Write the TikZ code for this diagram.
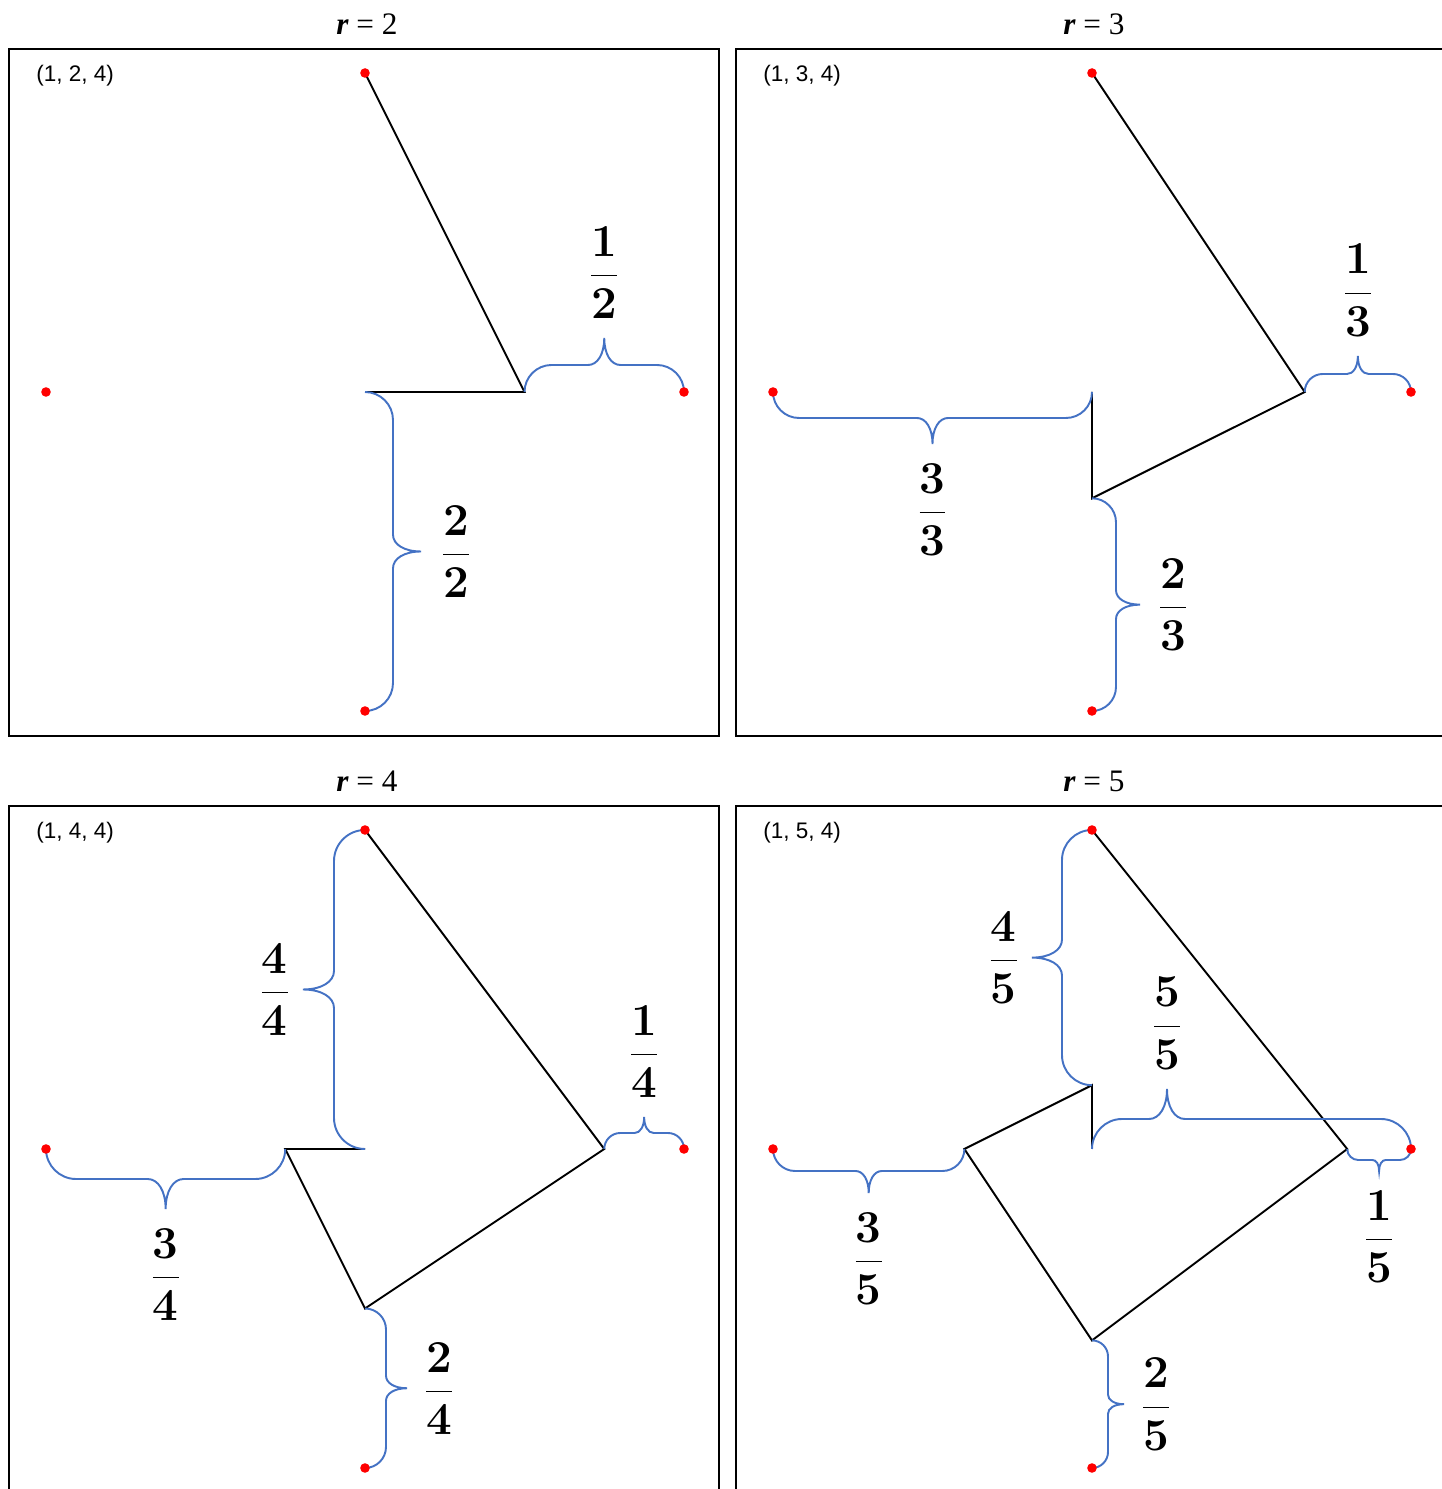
\RequirePackage{fix-cm}
\documentclass[tikz,border=0pt]{standalone}
\usepackage{amsmath}
\usepackage{fontspec}
\usepackage{xcolor}
\usepackage{tikz}
\usetikzlibrary{calc}

\newfontfamily\sansfont{Liberation Sans}
\newfontfamily\timesfont{Liberation Serif}
\definecolor{braceblue}{RGB}{68,114,196}

\newcommand\frlabel[2]{$\genfrac{}{}{0.6pt}{0}{\textbf{#1}}{\textbf{#2}}$}

% frame, heading, tag and the four corner points of one panel
\newcommand\panelbox[1]{%
  \coordinate (c) at (0,0);
  \coordinate (v1) at (319,0);
  \coordinate (v2) at (0,-319);
  \coordinate (v3) at (-319,0);
  \coordinate (v4) at (0,319);
  \draw[framebox] (-356,-344) rectangle (354,343);
  \node[heading] (head) at (2,368) {{\bfseries\itshape r} = #1};
  \node[tagtext] (tag) at (-329,316) {(1, #1, 4)};
}
\newcommand\reddots{%
  \foreach \v in {v1,v2,v3,v4} \fill[red] (\v) circle (4.8);
}
% brace: start, rotation, length, tip, amplitude, gap, anchor, name, label
\newcommand\brc[9]{%
  \begin{scope}[shift={(#1)}, rotate=#2]
    \draw[bluebrace] (0,0) .. controls (0,0.55*#5) and (0.45*#5,#5) .. (#5,#5)
      -- (#4-0.6*#5,#5) .. controls (#4-0.25*#5,#5) and (#4,1.4*#5) .. (#4,2*#5)
      .. controls (#4,1.4*#5) and (#4+0.25*#5,#5) .. (#4+0.6*#5,#5)
      -- (#3-#5,#5) .. controls (#3-0.45*#5,#5) and (#3,0.55*#5) .. (#3,0);
    \node[fraclabel, anchor=#7] (#8) at (#4,2*#5+#6) {#9};
  \end{scope}}

\begin{document}
\begin{tikzpicture}[x=0.02cm, y=0.02cm,
    framebox/.style={draw=black, line width=0.8pt},
    heading/.style={font=\timesfont\fontsize{17.8}{21}\selectfont, inner sep=0pt},
    tagtext/.style={font=\sansfont\fontsize{12.8}{15}\selectfont, anchor=west, inner sep=0pt},
    walk/.style={black, line width=1.1pt, line join=miter},
    bluebrace/.style={braceblue, line width=1.1pt},
    fraclabel/.style={font=\fontsize{26}{30}\selectfont, inner sep=0pt}
]
    \useasboundingbox (0,0) rectangle (1442,1489);
    \clip (0,0) rectangle (1442,1489);

    % r = 2
    \begin{scope}[shift={(365,1097)}]
        \panelbox{2}
        \coordinate (q1) at (159.5,0);
        \draw[walk] (c) -- (q1) -- (v4);
        \brc{q1}{0}{159.5}{79.75}{27}{19}{south}{f21}{\frlabel{1}{2}}
        \brc{c}{-90}{319}{159.5}{28}{20}{west}{f22}{\frlabel{2}{2}}
        \reddots
    \end{scope}

    % r = 3
    \begin{scope}[shift={(1092,1097)}]
        \panelbox{3}
        \coordinate (q2) at (0,-106.3);
        \coordinate (q1) at (212.7,0);
        \draw[walk] (c) -- (q2) -- (q1) -- (v4);
        \brc{c}{180}{319}{159.5}{26}{19}{north}{f33}{\frlabel{3}{3}}
        \brc{q2}{-90}{212.7}{106.35}{24}{18}{west}{f32}{\frlabel{2}{3}}
        \brc{q1}{0}{106.3}{53.15}{18}{19}{south}{f31}{\frlabel{1}{3}}
        \reddots
    \end{scope}

    % r = 4
    \begin{scope}[shift={(365,340)}]
        \panelbox{4}
        \coordinate (q3) at (-79.75,0);
        \coordinate (q2) at (0,-159.5);
        \coordinate (q1) at (239.25,0);
        \draw[walk] (c) -- (q3) -- (q2) -- (q1) -- (v4);
        \brc{c}{90}{319}{159.5}{31}{13}{east}{f44}{\frlabel{4}{4}}
        \brc{q3}{180}{239.25}{119.6}{30}{19}{north}{f43}{\frlabel{3}{4}}
        \brc{q2}{-90}{159.5}{79.75}{21}{17}{west}{f42}{\frlabel{2}{4}}
        \brc{q1}{0}{79.75}{39.9}{16}{19}{south}{f41}{\frlabel{1}{4}}
        \reddots
    \end{scope}

    % r = 5
    \begin{scope}[shift={(1092,340)}]
        \panelbox{5}
        \coordinate (q4) at (0,63.8);
        \coordinate (q3) at (-127.6,0);
        \coordinate (q2) at (0,-191.4);
        \coordinate (q1) at (255.2,0);
        \draw[walk] (c) -- (q4) -- (q3) -- (q2) -- (q1) -- (v4);
        \brc{c}{0}{319}{75}{30}{19}{south}{f55}{\frlabel{5}{5}}
        \brc{q4}{90}{255.2}{127.6}{30}{13}{east}{f54}{\frlabel{4}{5}}
        \brc{q3}{180}{191.4}{95.7}{22}{19}{north}{f53}{\frlabel{3}{5}}
        \brc{q2}{-90}{127.6}{63.8}{16}{17}{west}{f52}{\frlabel{2}{5}}
        \brc{v1}{180}{63.8}{31.9}{11}{19}{north}{f51}{\frlabel{1}{5}}
        \reddots
    \end{scope}
\end{tikzpicture}
\end{document}
